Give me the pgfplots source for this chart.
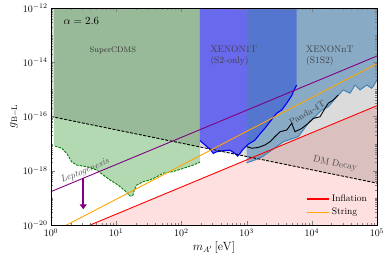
\documentclass[border=0pt]{standalone}
\usepackage{pgfplots}
\pgfplotsset{compat=1.18}
\usetikzlibrary{arrows.meta}
\definecolor{mplgreen}{RGB}{0,128,0}
\definecolor{steel}{RGB}{70,130,180}
\definecolor{mplorange}{RGB}{255,165,0}
\definecolor{mplpurple}{RGB}{128,0,128}
\definecolor{mplred}{RGB}{255,0,0}
\def\yminor{}
\foreach \k in {-20,...,-13}{\foreach \m in {2,...,9}{\xdef\yminor{\yminor\m e\k,}}}
\xdef\yminor{\yminor 1e-19,1e-17,1e-15,1e-13}
\def\xminor{}
\foreach \k in {0,...,4}{\foreach \m in {2,...,9}{\xdef\xminor{\xminor\m e\k,}}}
\xdef\xminor{\xminor 1e5}
\begin{document}
\begin{tikzpicture}
\begin{axis}[name=ax, xmode=log, ymode=log, scale only axis,
  width=326bp, height=217bp,
  xmin=1, xmax=1e5, ymin=1e-20, ymax=1e-12,
  xtick={1,10,100,1000,10000,100000},
  ytick={1e-20,1e-18,1e-16,1e-14,1e-12},
  minor xtick/.expanded=\xminor, minor ytick/.expanded=\yminor,
  tick align=inside, axis on top,
  major tick length=4bp, minor tick length=2bp,
  tick label style={font=\fontsize{10}{12}\selectfont},
  label style={font=\fontsize{12}{14}\selectfont},
  xlabel={$m_{A'}\,[\mathrm{eV}]$}, ylabel={$g_{\mathrm{B-L}}$},
  xlabel style={yshift=2bp}, ylabel style={yshift=-2bp},
  legend style={at={(rel axis cs:0.985,0.02)}, anchor=south east, draw=none, fill=none,
    font=\fontsize{9.5}{11}\selectfont, row sep=1bp},
  legend cell align=left,
  legend image code/.code={\draw[#1, line width=1.6pt] (0bp,0bp) -- (22bp,0bp);},
]
% Inflation region
\addplot[draw=none, fill=mplred, fill opacity=0.12, forget plot] coordinates {(1,2.51e-21) (1e5,2.51e-16) (1e5,1e-21) (1,1e-21)} --cycle;
% SuperCDMS
\addplot[draw=none, fill=mplgreen, fill opacity=0.3, forget plot] coordinates {
(1.12,1e-12) (1.12,8.5e-18) (1.151,8.13e-18) (1.459,6.76e-18) (1.742,4.37e-18) (2.075,2.14e-18) (2.477,1.62e-18)
(3.532,1.41e-18) (5.023,1.07e-18) (6.339,6.92e-19) (8.035,4.57e-19) (10.76,2.95e-19) (13.65,1.82e-19)
(16.29,1.175e-19) (17.91,1.175e-19) (18.97,1.95e-19) (20.61,2.95e-19) (26.06,3.98e-19) (32.96,4.57e-19)
(41.78,6.03e-19) (52.72,8.13e-19) (75.16,9.33e-19) (106.9,1.23e-18) (152.4,1.62e-18) (192.8,2.09e-18)
(192.8,1e-12)} --cycle;
% DM decay
\addplot[draw=none, fill=black, fill opacity=0.14, forget plot] coordinates {(1,1e-16) (1e5,3.5e-19) (1e5,1e-12) (1,1e-12)} --cycle;
% XENON1T
\addplot[draw=none, fill=blue, fill opacity=0.52, forget plot] coordinates {
(192.8,1e-12) (192.8,1.29e-17) (230.1,8.91e-18) (274.8,6.17e-18) (309.0,4.37e-18) (347.5,5.01e-18)
(439.5,5.50e-18) (555.9,5.75e-18) (663.7,4.37e-18) (729.5,3.47e-18) (792.5,4.37e-18) (889.2,6.31e-18)
(1062,9.55e-18) (1346,1.35e-17) (1607,2.29e-17) (1914,3.72e-17) (2286,6.46e-17) (2729,1.12e-16)
(2897,1.32e-16) (3451,1.74e-16) (4121,3.09e-16) (4920,5.89e-16) (5200,8.13e-16) (5861,1.45e-15)
(5861,1e-12)} --cycle;
% XENONnT
\addplot[draw=none, fill=steel, fill opacity=0.55, forget plot] coordinates {
(1000,1e-12) (1000,1.95e-18) (1346,2.51e-18) (1722,3.24e-18) (2427,5.75e-18) (3656,1.175e-17)
(6209,1.82e-17) (8831,5.62e-17) (14190,1.74e-16) (17910,2.29e-16) (24100,5.37e-16) (30410,9.55e-16)
(38550,7.24e-16) (46030,1.45e-15) (54830,9.55e-16) (69500,1.45e-15) (82990,1.10e-15) (93110,1.66e-15)
(1e5,2.40e-15) (1e5,1e-12)} --cycle;
% boundaries
\addplot[mplgreen, line width=0.9pt, dash pattern=on 2.5pt off 1.2pt, forget plot] coordinates {
(1.151,8.13e-18) (1.459,6.76e-18) (1.742,4.37e-18) (2.075,2.14e-18) (2.477,1.62e-18)
(3.532,1.41e-18) (5.023,1.07e-18) (6.339,6.92e-19) (8.035,4.57e-19) (10.76,2.95e-19) (13.65,1.82e-19)
(16.29,1.175e-19) (17.91,1.175e-19) (18.97,1.95e-19) (20.61,2.95e-19) (26.06,3.98e-19) (32.96,4.57e-19)
(41.78,6.03e-19) (52.72,8.13e-19) (75.16,9.33e-19) (106.9,1.23e-18) (152.4,1.62e-18) (192.8,2.09e-18)};
\addplot[blue, line width=1.1pt, forget plot] coordinates {
(192.8,1.29e-17) (230.1,8.91e-18) (274.8,6.17e-18) (309.0,4.37e-18) (347.5,5.01e-18)
(439.5,5.50e-18) (555.9,5.75e-18) (663.7,4.37e-18) (729.5,3.47e-18) (792.5,4.37e-18) (889.2,6.31e-18)
(1062,9.55e-18) (1346,1.35e-17) (1607,2.29e-17) (1914,3.72e-17) (2286,6.46e-17) (2729,1.12e-16)
(2897,1.32e-16) (3451,1.74e-16) (4121,3.09e-16) (4920,5.89e-16) (5200,8.13e-16) (5861,1.45e-15)};
\addplot[steel, line width=1pt, forget plot] coordinates {
(1000,1.95e-18) (1346,2.51e-18) (1722,3.24e-18) (2427,5.75e-18) (3656,1.175e-17)
(6209,1.82e-17) (8831,5.62e-17) (14190,1.74e-16) (17910,2.29e-16) (24100,5.37e-16) (30410,9.55e-16)
(38550,7.24e-16) (46030,1.45e-15) (54830,9.55e-16) (69500,1.45e-15) (82990,1.10e-15) (93110,1.66e-15)
(1e5,2.40e-15)};
% Panda-4T
\addplot[black, line width=0.9pt, forget plot] coordinates {
(1005,7.76e-18) (1197,6.76e-18) (1510,7.24e-18) (1914,8.91e-18) (2286,1.175e-17) (2729,1.82e-17)
(3251,2.75e-17) (4121,3.16e-17) (4920,5.62e-17) (5521,2.75e-17) (6998,3.63e-17) (8831,5.62e-17)
(10540,8.51e-17) (13370,9.77e-17) (15920,2.00e-16) (17910,3.09e-16) (21380,4.07e-16) (25470,6.17e-16)};
% Leptogenesis line
\addplot[mplpurple, line width=0.9pt, forget plot] coordinates {(1,1.70e-19) (1e5,1.70e-14)};
\addplot[mplpurple, line width=2pt, -{Triangle[width=7pt,length=5pt]}, forget plot] coordinates {(3.126,5.25e-19) (3.126,3.8e-20)};
% DM decay line
\addplot[black, line width=0.9pt, dash pattern=on 3pt off 1.5pt, forget plot] coordinates {(1,1e-16) (1e5,3.5e-19)};
% Inflation and String
\addplot[color=mplred, line width=0.9pt] coordinates {(1,2.51e-21) (1e5,2.51e-16)};
\addlegendentry{Inflation}
\addplot[color=mplorange, line width=0.9pt] coordinates {(1,5.01e-21) (1e5,8.91e-15)};
\addlegendentry{String}
% labels
\node[anchor=west, font=\fontsize{11}{13}\selectfont] at (axis cs:1.374,3.31e-13) {$\alpha = 2.6$};
\node[font=\fontsize{8}{10}\selectfont, text=black!80] at (axis cs:8.91,2.69e-14) {SuperCDMS};
\node[anchor=west, align=left, font=\fontsize{9.5}{11}\selectfont, text=black!75] at (axis cs:247,1.66e-14) {XENON1T\\(S2-only)};
\node[anchor=west, align=left, font=\fontsize{9.5}{11}\selectfont, text=black!75] at (axis cs:7244,1.66e-14) {XENONnT\\(S1S2)};
\node[rotate=22.6, font=\fontsize{9.5}{11}\selectfont\itshape, text=black!70] at (axis cs:3.32,9.8e-19) {Leptogenesis};
\node[rotate=30, font=\fontsize{9}{11}\selectfont, text=black!75, inner sep=0pt] at (axis cs:8433,1.35e-16) {Panda-4T};
\node[rotate=-12, font=\fontsize{9.5}{11}\selectfont, text=black!70] at (axis cs:22700,1.78e-18) {DM Decay};
\end{axis}
\pgfresetboundingbox
\path ([xshift=-51bp,yshift=-34bp]ax.south west) rectangle ([xshift=12bp,yshift=8bp]ax.north east);
\end{tikzpicture}
\end{document}
